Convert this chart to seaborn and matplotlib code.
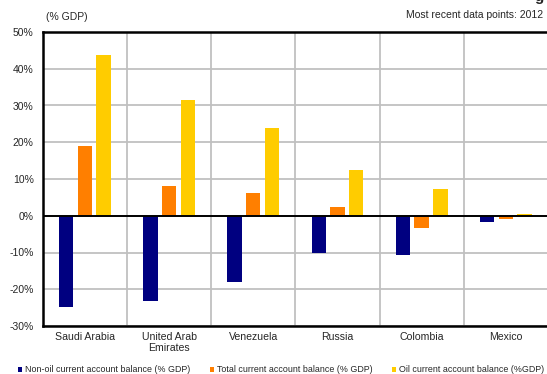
import numpy as np
import pandas as pd
import matplotlib
matplotlib.use("Agg")
import matplotlib.pyplot as plt
from matplotlib.patches import Patch
import seaborn as sns

categories = ["Saudi Arabia", "United Arab\nEmirates", "Venezuela", "Russia", "Colombia", "Mexico"]
series_names = ["Non-oil current account balance (% GDP)",
                "Total current account balance (% GDP)",
                "Oil current account balance (%GDP)"]
non_oil = [-24.8, -23.3, -17.9, -10.0, -10.8, -1.7]
total = [19.1, 8.2, 6.1, 2.5, -3.4, -1.0]
oil = [43.8, 31.4, 24.0, 12.5, 7.4, 0.6]
y_ticks = [-30, -20, -10, 0, 10, 20, 30, 40, 50]
y_tick_labels = ["-30%", "-20%", "-10%", "0%", "10%", "20%", "30%", "40%", "50%"]
colors = ["#000080", "#FF7F00", "#FFCC00"]

df = pd.DataFrame({
    "country": categories * 3,
    "series": [series_names[0]] * 6 + [series_names[1]] * 6 + [series_names[2]] * 6,
    "value": non_oil + total + oil,
})

sns.set_style("white")
plt.rcParams["font.family"] = ["Liberation Sans", "DejaVu Sans"]

W, H = 547, 374
fig = plt.figure(figsize=(W / 100, H / 100), dpi=100)
ax = fig.add_axes([42.7 / W, 1 - 326 / H, (548 - 42.7) / W, (326 - 32) / H])

sns.barplot(data=df, x="country", y="value", hue="series", order=categories,
            hue_order=series_names, palette=colors, width=0.667, gap=0.23,
            legend=False, ax=ax, saturation=1, linewidth=0, errorbar=None)

ax.set_xlim(-0.5, 5.5)
ax.set_ylim(-30, 50)
ax.set_yticks(y_ticks)
ax.set_yticklabels(y_tick_labels, fontsize=7.5)
ax.set_xticks(range(len(categories)))
ax.set_xticklabels(categories, fontsize=7.6, linespacing=1.15)
ax.set_xticks(np.arange(0.5, 5.5, 1), minor=True)
ax.tick_params(axis="both", which="both", length=0)
ax.tick_params(axis="y", pad=6.5)
ax.tick_params(axis="x", pad=4)
ax.set_xlabel("")
ax.set_ylabel("")

ax.grid(True, axis="y", which="major", color="#C0C0C0", linewidth=1.3)
ax.grid(True, axis="x", which="minor", color="#C0C0C0", linewidth=1.3)
ax.grid(False, axis="x", which="major")
ax.set_axisbelow(True)
ax.axhline(0, color="black", linewidth=1.4, zorder=3)

for s in ["left", "bottom", "top"]:
    ax.spines[s].set_visible(True)
    ax.spines[s].set_color("black")
    ax.spines[s].set_linewidth(1.8)
ax.spines["right"].set_visible(False)

fig.text(46 / W, 1 - 17.5 / H, "(% GDP)", fontsize=7.5, ha="left", va="center")
fig.text(543 / W, 1 - 15 / H, "Most recent data points: 2012", fontsize=7.5,
         ha="right", va="center")
fig.text(544 / W, 1 - 0.5 / H, "g", fontsize=11, fontweight="bold", ha="right",
         va="baseline")

handles = [Patch(facecolor=c, edgecolor="none") for c in colors]
fig.legend(handles, series_names, loc="center", ncol=3,
           bbox_to_anchor=(281 / W, 1 - 370 / H), frameon=False, fontsize=6.4,
           handlelength=0.45, handleheight=0.45, handletextpad=0.35,
           columnspacing=2.2, borderpad=0, borderaxespad=0)

fig.savefig("out.png", dpi=100)
